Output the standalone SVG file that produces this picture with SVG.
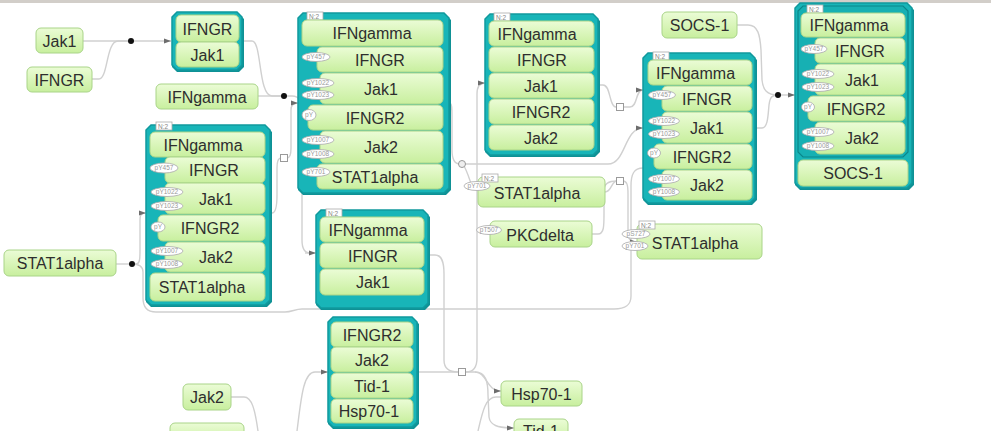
<svg xmlns="http://www.w3.org/2000/svg" width="991" height="431" viewBox="0 0 991 431">
<defs>
<linearGradient id="gn" x1="0" y1="0" x2="0" y2="1">
<stop offset="0" stop-color="#ebfcd6"/>
<stop offset="1" stop-color="#c8ef9e"/>
</linearGradient>
<marker id="ar" markerWidth="7" markerHeight="6" refX="7" refY="3" orient="auto" markerUnits="userSpaceOnUse">
<path d="M0,0.5 L7,3 L0,5.5 z" fill="#6d6d6d"/>
</marker>
<style>
.n{fill:url(#gn);stroke:#a9d488;stroke-width:1}
.cx{fill:#18b5b8;stroke:#10999d;stroke-width:1.5}
.sh{fill:#0f9195}
.t{font-family:"Liberation Sans",Arial,sans-serif;font-size:16px;fill:#2e2e2e;text-anchor:middle}
.e{fill:#fff;stroke:#a8a8a8;stroke-width:0.8}
.et{font-family:"Liberation Sans",Arial,sans-serif;font-size:6.5px;fill:#999;text-anchor:middle}
.tab{fill:#fff;stroke:#aaa;stroke-width:0.8}
.tt{font-family:"Liberation Sans",Arial,sans-serif;font-size:6.5px;fill:#888}
.c{fill:none;stroke:#d0d0d0;stroke-width:1.4}
.ca{fill:none;stroke:#d0d0d0;stroke-width:1.4;marker-end:url(#ar)}
.sq{fill:#fff;stroke:#9a9a9a;stroke-width:1}
</style>
</defs>
<rect x="0" y="0" width="991" height="431" fill="#fff"/>
<rect x="0" y="0" width="991" height="3" fill="#d2cec9"/>

<g id="connectors">
<path class="c" d="M83,41 L131,41"/>
<path class="c" d="M92,79 L99,79 C108,79 106,41 118,41 L131,41"/>
<path class="ca" d="M131,41 L171,41"/>
<path class="c" d="M242,41 L252,41 C262,41 258,96 272,96 L284,96"/>
<path class="c" d="M258,96 L284,96"/>
<path class="c" d="M284,96 L292,96 C300,96 302,102 302,112 L302,240 C302,250 305,253 310,253"/>
<path class="ca" d="M305,253 L316,253"/>
<path class="c" d="M270,213 L272,213 C276,213 277,205 277,195 L277,168 C277,160 279,158 281,158"/>
<path class="ca" d="M287,158 C290,158 291,154 291,148 L291,110 C291,105 293,103 298,103"/>
<path class="c" d="M116,264 L132,264"/>
<path class="ca" d="M132,264 L136,264 C140,264 140,258 140,250 L140,220 C140,215 141,213 146,213"/>
<path class="c" d="M643,168 C634,168 631,174 631,186 L631,296 C631,305 626,309 614,309 L302,309 C295,309 292,312 285,312 L156,312 C147,312 143,307 143,298 L143,272 C143,266 139,264 132,264"/>
<path class="c" d="M449,103 C452,103 452,108 452,116 L452,150 C452,159 455,164 460,164"/>
<path class="ca" d="M465,164 L608,164 C626,164 624,128 643,128"/>
<path class="c" d="M464,166 C467,171 469,178 472,186"/>
<path class="c" d="M428,255 L435,255 C442,255 444,262 444,274 L444,360 C444,368 449,372 458,372"/>
<path class="c" d="M417,372 L458,372"/>
<path class="ca" d="M466,372 C473,372 477,368 477,358 L477,94 C477,87 479,83 485,83"/>
<path class="ca" d="M466,372 L475,372 C487,372 486,391 501,391"/>
<path class="ca" d="M475,372 C486,372 488,382 488,395 L489,417 C490,425 497,428 514,428"/>
<path class="c" d="M501,397 L496,397 C485,397 482,414 478,431"/>
<path class="ca" d="M297,431 C301,400 303,372 315,372 L328,372"/>
<path class="c" d="M231,397 L244,397 C252,397 255,410 258,431"/>
<path class="c" d="M598,85 L603,85 C611,85 609,107 616,107"/>
<path class="ca" d="M624,107 L630,107 C638,107 635,90 643,90"/>
<path class="c" d="M605,192 C612,192 611,181 617,181"/>
<path class="c" d="M592,234 L598,234 C604,234 604,226 604,214 L604,190 C604,184 608,181 617,181"/>
<path class="ca" d="M623,181 C627,181 628,185 628,194 L628,234 C628,240 632,242 637,242"/>
<path class="c" d="M737,25 L748,25 C758,25 760,35 761,50 L762,80 C763,90 767,95 778,95"/>
<path class="c" d="M755,128 L762,128 C768,128 768,115 769,105 C770,97 772,95 778,95"/>
<path class="ca" d="M778,95 L795,95"/>
<circle cx="131" cy="41" r="3" fill="#111"/>
<circle cx="284" cy="96" r="3" fill="#111"/>
<circle cx="132" cy="264" r="3" fill="#111"/>
<circle cx="778" cy="95" r="3" fill="#111"/>
<circle cx="462" cy="164" r="3.5" fill="#eee" stroke="#999" stroke-width="1"/>
<rect class="sq" x="280.5" y="154.5" width="7" height="7"/>
<rect class="sq" x="458.5" y="368.5" width="7" height="7"/>
<rect class="sq" x="616.5" y="103.5" width="7" height="7"/>
<rect class="sq" x="616.5" y="177.5" width="7" height="7"/>
</g>

<g id="n-jak1"><rect class="n" x="36" y="28" width="47" height="25" rx="5"/><text class="t" x="59.5" y="46.5">Jak1</text></g>
<g id="n-ifngr"><rect class="n" x="27" y="67" width="65" height="25" rx="5"/><text class="t" x="59.5" y="85.5">IFNGR</text></g>
<g id="n-ifngamma"><rect class="n" x="156" y="84" width="102" height="25" rx="5"/><text class="t" x="207" y="102.5">IFNgamma</text></g>
<g id="n-stat1-left"><rect class="n" x="4" y="250" width="112" height="26" rx="5"/><text class="t" x="60" y="269">STAT1alpha</text></g>
<g id="n-socs1"><rect class="n" x="662" y="12" width="75" height="26" rx="5"/><text class="t" x="699.5" y="31">SOCS-1</text></g>
<g id="n-jak2"><rect class="n" x="183" y="384" width="48" height="26" rx="5"/><text class="t" x="207" y="403">Jak2</text></g>
<g id="n-bottom"><rect class="n" x="170" y="423" width="74" height="20" rx="5"/></g>
<g id="n-hsp70"><rect class="n" x="501" y="381" width="81" height="25" rx="5"/><text class="t" x="541.5" y="399.5">Hsp70-1</text></g>
<g id="n-tid1"><rect class="n" x="514" y="419" width="54" height="25" rx="5"/><text class="t" x="541" y="437">Tid-1</text></g>

<g id="n-stat1-mid">
<rect class="n" x="478" y="177" width="127" height="30" rx="5"/>
<rect class="tab" x="482" y="174" width="16" height="8"/><text class="tt" x="484" y="180.5">N:2</text>
<text class="t" x="537" y="199">STAT1alpha</text>
<ellipse class="e" cx="477" cy="186" rx="13" ry="4.5"/><text class="et" x="477" y="188.3">pY701</text>
</g>
<g id="n-pkcdelta">
<rect class="n" x="490" y="221" width="102" height="26" rx="5"/>
<text class="t" x="540" y="241">PKCdelta</text>
<ellipse class="e" cx="489" cy="230" rx="12.5" ry="4.5"/><text class="et" x="489" y="232.3">pT507</text>
</g>
<g id="n-stat1-right">
<rect class="n" x="637" y="224" width="125" height="35" rx="5"/>
<rect class="tab" x="639" y="221" width="16" height="8"/><text class="tt" x="641" y="227.5">N:2</text>
<text class="t" x="695" y="249">STAT1alpha</text>
<ellipse class="e" cx="636" cy="234" rx="14" ry="4.5"/><text class="et" x="636" y="236.3">pS727</text>
<ellipse class="e" cx="635" cy="246" rx="13" ry="4.5"/><text class="et" x="635" y="248.3">pY701</text>
</g>

<g id="cx-ifngr-jak1">
<polygon class="sh" points="177,14 239,14 244,19 244,67 239,72 177,72 172,67 172,19"/>
<polygon class="cx" points="177,12 237,12 242,17 242,65 237,70 177,70 172,65 172,17"/>
<rect class="n" x="176" y="15" width="63" height="27" rx="5"/><text class="t" x="207.5" y="34.5">IFNGR</text>
<rect class="n" x="176" y="42" width="63" height="25" rx="5"/><text class="t" x="207.5" y="60.5">Jak1</text>
</g>

<g id="cx-a">
<polygon class="sh" points="303,15 446,15 451,20 451,190 446,195 303,195 298,190 298,20"/>
<polygon class="cx" points="303,13 444,13 449,18 449,188 444,193 303,193 298,188 298,18"/>
<rect class="tab" x="307" y="12" width="16" height="8"/><text class="tt" x="309" y="18.5">N:2</text>
<rect class="n" x="302" y="20" width="141" height="26" rx="5"/><text class="t" x="372" y="39">IFNgamma</text>
<rect class="n" x="317" y="47" width="126" height="25" rx="5"/><text class="t" x="380" y="65.5">IFNGR</text>
<rect class="n" x="320" y="73" width="123" height="31" rx="5"/><text class="t" x="381" y="94.5">Jak1</text>
<rect class="n" x="308" y="105" width="135" height="25" rx="5"/><text class="t" x="375" y="123.5">IFNGR2</text>
<rect class="n" x="320" y="131" width="123" height="32" rx="5"/><text class="t" x="381" y="153">Jak2</text>
<rect class="n" x="317" y="164" width="126" height="25" rx="5"/><text class="t" x="375" y="182.5">STAT1alpha</text>
<ellipse class="e" cx="316" cy="57" rx="14" ry="4.5"/><text class="et" x="316" y="59.3">pY457</text>
<ellipse class="e" cx="318" cy="83" rx="16" ry="4.5"/><text class="et" x="318" y="85.3">pY1022</text>
<ellipse class="e" cx="318" cy="95" rx="16" ry="4.5"/><text class="et" x="318" y="97.3">pY1023</text>
<ellipse class="e" cx="309" cy="115" rx="7" ry="5.5"/><text class="et" x="309" y="117.3">pY</text>
<ellipse class="e" cx="318" cy="140" rx="16" ry="4.5"/><text class="et" x="318" y="142.3">pY1007</text>
<ellipse class="e" cx="318" cy="154" rx="16" ry="4.5"/><text class="et" x="318" y="156.3">pY1008</text>
<ellipse class="e" cx="316" cy="172" rx="14" ry="4.5"/><text class="et" x="316" y="174.3">pY701</text>
</g>

<g id="cx-b">
<polygon class="sh" points="151,127 267,127 272,132 272,302 267,307 151,307 146,302 146,132"/>
<polygon class="cx" points="151,125 265,125 270,130 270,300 265,305 151,305 146,300 146,130"/>
<rect class="tab" x="156" y="122" width="16" height="8"/><text class="tt" x="158" y="128.5">N:2</text>
<rect class="n" x="150" y="132" width="115" height="25" rx="5"/><text class="t" x="203" y="150.5">IFNgamma</text>
<rect class="n" x="165" y="157" width="100" height="26" rx="5"/><text class="t" x="214" y="176">IFNGR</text>
<rect class="n" x="165" y="183" width="100" height="31" rx="5"/><text class="t" x="216" y="204.5">Jak1</text>
<rect class="n" x="158" y="215" width="107" height="26" rx="5"/><text class="t" x="210" y="234">IFNGR2</text>
<rect class="n" x="165" y="242" width="100" height="30" rx="5"/><text class="t" x="216" y="263">Jak2</text>
<rect class="n" x="150" y="273" width="115" height="28" rx="5"/><text class="t" x="202" y="293">STAT1alpha</text>
<ellipse class="e" cx="164" cy="168" rx="14" ry="5"/><text class="et" x="164" y="170.3">pY457</text>
<ellipse class="e" cx="167" cy="192" rx="16" ry="4.5"/><text class="et" x="167" y="194.3">pY1022</text>
<ellipse class="e" cx="167" cy="206" rx="16" ry="4.5"/><text class="et" x="167" y="208.3">pY1023</text>
<ellipse class="e" cx="158" cy="227" rx="7" ry="5"/><text class="et" x="158" y="229.3">pY</text>
<ellipse class="e" cx="167" cy="251" rx="16" ry="4.5"/><text class="et" x="167" y="253.3">pY1007</text>
<ellipse class="e" cx="167" cy="264" rx="16" ry="4.5"/><text class="et" x="167" y="266.3">pY1008</text>
</g>

<g id="cx-c">
<polygon class="sh" points="321,212 425,212 430,217 430,305 425,310 321,310 316,305 316,217"/>
<polygon class="cx" points="321,210 423,210 428,215 428,303 423,308 321,308 316,303 316,215"/>
<rect class="tab" x="326" y="209" width="16" height="8"/><text class="tt" x="328" y="215.5">N:2</text>
<rect class="n" x="320" y="217" width="104" height="25" rx="5"/><text class="t" x="368" y="235.5">IFNgamma</text>
<rect class="n" x="320" y="243" width="104" height="25" rx="5"/><text class="t" x="373" y="261.5">IFNGR</text>
<rect class="n" x="320" y="269" width="104" height="26" rx="5"/><text class="t" x="373" y="288">Jak1</text>
</g>

<g id="cx-d">
<polygon class="sh" points="490,16 595,16 600,21 600,152 595,157 490,157 485,152 485,21"/>
<polygon class="cx" points="490,14 593,14 598,19 598,150 593,155 490,155 485,150 485,19"/>
<rect class="tab" x="494" y="13" width="16" height="8"/><text class="tt" x="496" y="19.5">N:2</text>
<rect class="n" x="489" y="21" width="105" height="25" rx="5"/><text class="t" x="537" y="39.5">IFNgamma</text>
<rect class="n" x="489" y="47" width="105" height="25" rx="5"/><text class="t" x="542" y="65.5">IFNGR</text>
<rect class="n" x="489" y="73" width="105" height="25" rx="5"/><text class="t" x="541" y="91.5">Jak1</text>
<rect class="n" x="489" y="99" width="105" height="25" rx="5"/><text class="t" x="541" y="117.5">IFNGR2</text>
<rect class="n" x="489" y="125" width="105" height="25" rx="5"/><text class="t" x="541" y="143.5">Jak2</text>
</g>

<g id="cx-e">
<polygon class="sh" points="648,55 752,55 757,60 757,200 752,205 648,205 643,200 643,60"/>
<polygon class="cx" points="648,53 750,53 755,58 755,198 750,203 648,203 643,198 643,58"/>
<rect class="tab" x="653" y="52" width="16" height="8"/><text class="tt" x="655" y="58.5">N:2</text>
<rect class="n" x="648" y="60" width="104" height="25" rx="5"/><text class="t" x="695.5" y="78.5">IFNgamma</text>
<rect class="n" x="662" y="86" width="90" height="25" rx="5"/><text class="t" x="707" y="104.5">IFNGR</text>
<rect class="n" x="662" y="112" width="90" height="31" rx="5"/><text class="t" x="707" y="133.5">Jak1</text>
<rect class="n" x="654" y="144" width="98" height="25" rx="5"/><text class="t" x="702" y="162.5">IFNGR2</text>
<rect class="n" x="662" y="170" width="90" height="30" rx="5"/><text class="t" x="707" y="191">Jak2</text>
<ellipse class="e" cx="662" cy="95" rx="13.5" ry="4.5"/><text class="et" x="662" y="97.3">pY457</text>
<ellipse class="e" cx="664" cy="121" rx="15.5" ry="4.5"/><text class="et" x="664" y="123.3">pY1022</text>
<ellipse class="e" cx="664" cy="134" rx="15.5" ry="4.5"/><text class="et" x="664" y="136.3">pY1023</text>
<ellipse class="e" cx="654" cy="153" rx="6.5" ry="5"/><text class="et" x="654" y="155.3">pY</text>
<ellipse class="e" cx="664" cy="179" rx="15.5" ry="4.5"/><text class="et" x="664" y="181.3">pY1007</text>
<ellipse class="e" cx="664" cy="192" rx="15.5" ry="4.5"/><text class="et" x="664" y="194.3">pY1008</text>
</g>

<g id="cx-f">
<polygon class="sh" points="800,5 909,5 914,10 914,185 909,190 800,190 795,185 795,10"/>
<polygon class="cx" points="800,3 907,3 912,8 912,183 907,188 800,188 795,183 795,8"/>
<polygon points="803,6 903,6 908,11 908,152 903,157 803,157 798,152 798,11" fill="#17b0b3" stroke="#0b868a" stroke-width="1.2"/>
<rect class="tab" x="807" y="5" width="16" height="8"/><text class="tt" x="809" y="11.5">N:2</text>
<rect class="n" x="801" y="13" width="104" height="24" rx="5"/><text class="t" x="849" y="31">IFNgamma</text>
<rect class="n" x="815" y="38" width="90" height="25" rx="5"/><text class="t" x="860" y="56.5">IFNGR</text>
<rect class="n" x="815" y="64" width="90" height="31" rx="5"/><text class="t" x="862" y="85.5">Jak1</text>
<rect class="n" x="808" y="96" width="97" height="25" rx="5"/><text class="t" x="856" y="114.5">IFNGR2</text>
<rect class="n" x="815" y="122" width="90" height="32" rx="5"/><text class="t" x="862" y="144">Jak2</text>
<rect class="n" x="798" y="160" width="110" height="26" rx="5"/><text class="t" x="853" y="179">SOCS-1</text>
<ellipse class="e" cx="814" cy="49" rx="13" ry="4.5"/><text class="et" x="814" y="51.3">pY457</text>
<ellipse class="e" cx="818" cy="74" rx="16" ry="4.5"/><text class="et" x="818" y="76.3">pY1022</text>
<ellipse class="e" cx="818" cy="87" rx="16" ry="4.5"/><text class="et" x="818" y="89.3">pY1023</text>
<ellipse class="e" cx="808" cy="107" rx="6.5" ry="5"/><text class="et" x="808" y="109.3">pY</text>
<ellipse class="e" cx="818" cy="132" rx="16" ry="4.5"/><text class="et" x="818" y="134.3">pY1007</text>
<ellipse class="e" cx="818" cy="146" rx="16" ry="4.5"/><text class="et" x="818" y="148.3">pY1008</text>
</g>

<g id="cx-g">
<polygon class="sh" points="333,319 414,319 419,324 419,424 414,429 333,429 328,424 328,324"/>
<polygon class="cx" points="333,317 412,317 417,322 417,422 412,427 333,427 328,422 328,322"/>
<rect class="n" x="331" y="322" width="82" height="25" rx="5"/><text class="t" x="372" y="340.5">IFNGR2</text>
<rect class="n" x="331" y="347" width="82" height="25" rx="5"/><text class="t" x="372" y="365.5">Jak2</text>
<rect class="n" x="331" y="373" width="82" height="25" rx="5"/><text class="t" x="372" y="391.5">Tid-1</text>
<rect class="n" x="331" y="399" width="82" height="24" rx="5"/><text class="t" x="369" y="417">Hsp70-1</text>
</g>
</svg>
